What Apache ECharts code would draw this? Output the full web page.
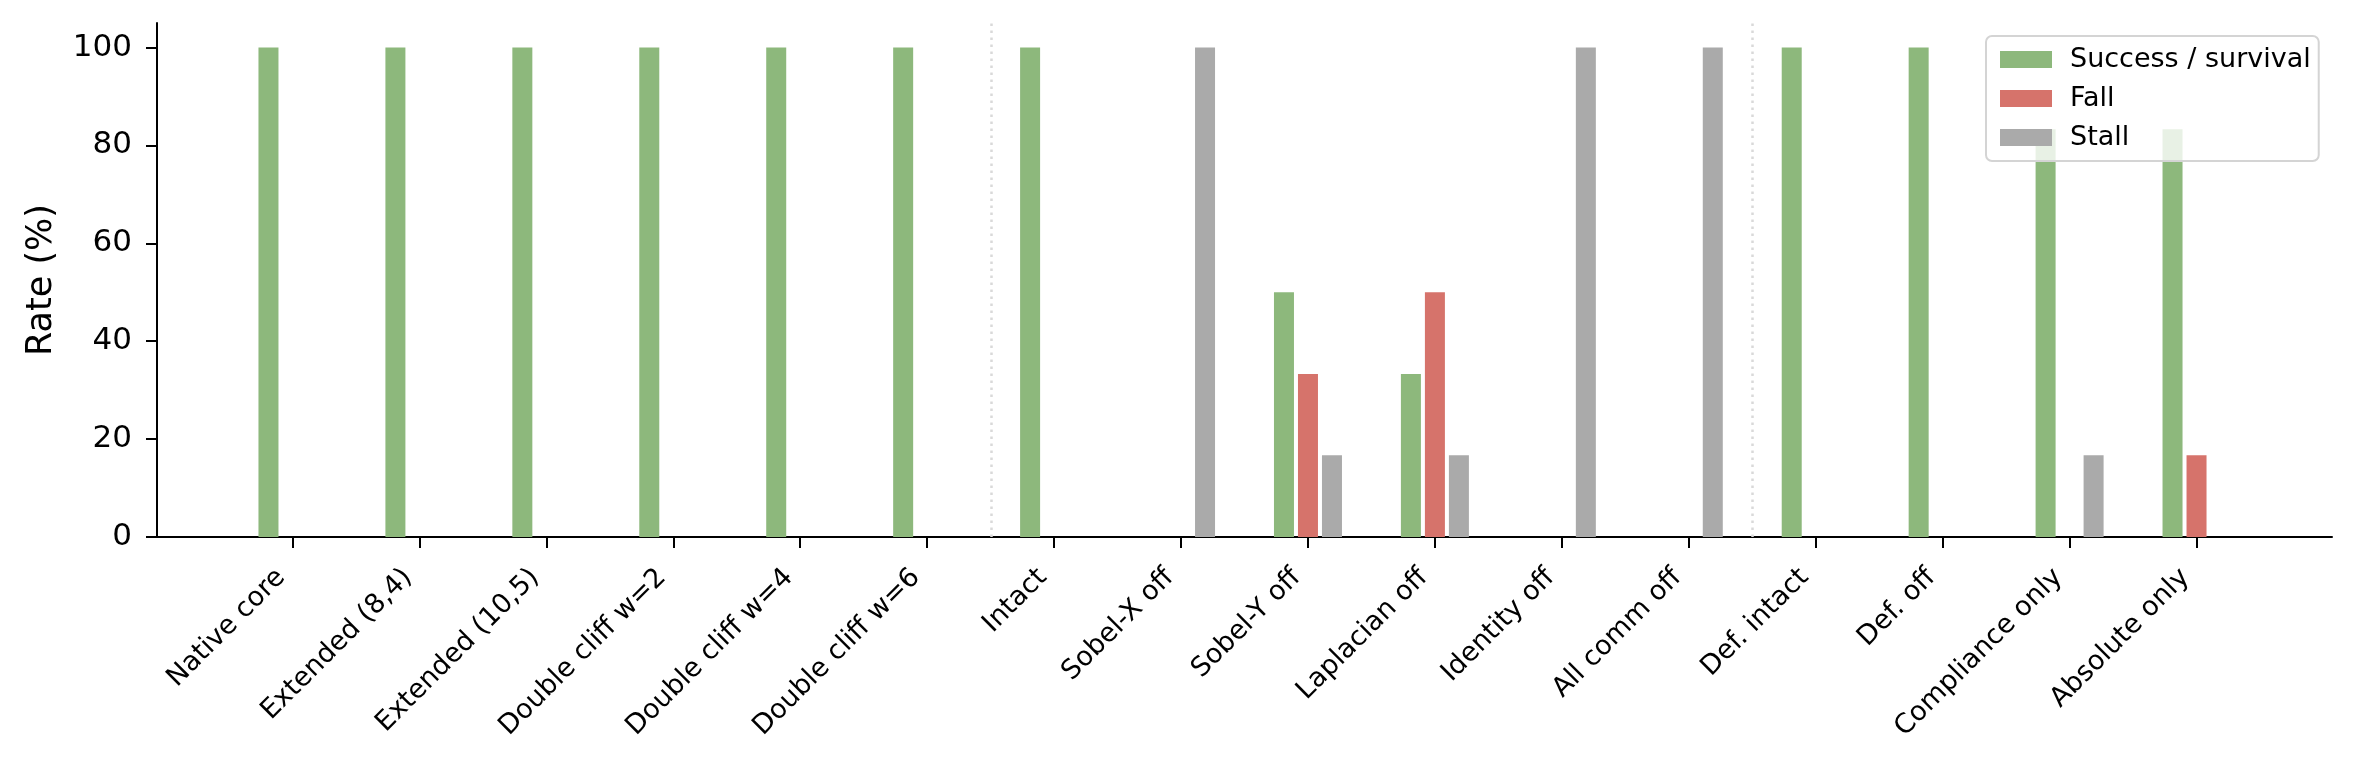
<!DOCTYPE html>
<html>
<head>
<meta charset="utf-8">
<script src="https://cdn.jsdelivr.net/npm/echarts@6/dist/echarts.min.js"></script>
<style>
  html, body { margin: 0; padding: 0; background: #fff; }
  #chart { width: 2355px; height: 771px; }
</style>
</head>
<body>
<div id="chart"></div>
<script>
var chartDom = document.getElementById("chart");
var chart = echarts.init(chartDom, null, { renderer: "canvas" });

const categories = [
  "Native core", "Extended (8,4)", "Extended (10,5)", "Double cliff w=2",
  "Double cliff w=4", "Double cliff w=6", "Intact", "Sobel-X off",
  "Sobel-Y off", "Laplacian off", "Identity off", "All comm off",
  "Def. intact", "Def. off", "Compliance only", "Absolute only"
];
const success = [100, 100, 100, 100, 100, 100, 100, 0, 50, 33.3, 0, 0, 100, 100, 83.3, 83.3];
const fall = [0, 0, 0, 0, 0, 0, 0, 0, 33.3, 50, 0, 0, 0, 0, 0, 16.7];
const stall = [0, 0, 0, 0, 0, 0, 0, 100, 16.7, 16.7, 100, 100, 0, 0, 16.7, 0];
const yTicks = [0, 20, 40, 60, 80, 100];
// group boundaries (between category indices)
const separators = [5.5, 11.5];

const font = "DejaVu Sans";

var grids = [
  // outer frame: axis spines
  { left: 157, right: 23, top: 23, bottom: 234, containLabel: false },
  // category band area
  { left: 229, right: 95, top: 23, bottom: 234, containLabel: false },
];

var option = {
  animation: false,
  backgroundColor: "#fff",
  textStyle: { fontFamily: font, color: "#000" },
  grid: grids,
  legend: {
    data: ["Success / survival", "Fall", "Stall"],
    orient: "vertical",
    left: 1986,
    top: 36,
    padding: [10, 8, 10, 14],
    itemWidth: 52,
    itemHeight: 17,
    itemGap: 12,
    icon: "rect",
    backgroundColor: "rgba(255,255,255,0.8)",
    borderColor: "#d4d4d4",
    borderWidth: 2,
    borderRadius: 6,
    textStyle: { fontFamily: font, fontSize: 27, color: "#000", padding: [0, 0, 0, 13] },
  },
  xAxis: [
    {
      gridIndex: 0,
      type: "value",
      min: -1.072,
      max: 16.072,
      axisLine: { show: true, onZero: false, lineStyle: { color: "#000", width: 2 } },
      axisTick: { show: false },
      axisLabel: { show: false },
      splitLine: { show: false },
    },
    {
      gridIndex: 1,
      type: "category",
      data: categories,
      axisLine: { show: false, onZero: false },
      axisTick: { show: true, alignWithLabel: true, length: 11, lineStyle: { color: "#000", width: 2 } },
      axisLabel: {
        interval: 0,
        rotate: 45,
        margin: 25,
        fontFamily: font,
        fontSize: 27,
        color: "#000",
        padding: [0, 16, 0, 0],
      },
      splitLine: { show: false },
    },
  ],
  yAxis: [
    {
      gridIndex: 0,
      type: "value",
      min: 0,
      max: 105,
      name: "Rate (%)",
      nameLocation: "middle",
      nameGap: 98,
      nameTextStyle: { fontFamily: font, fontSize: 35, color: "#000" },
      axisLine: { show: true, onZero: false, lineStyle: { color: "#000", width: 2 } },
      axisTick: { show: true, length: 11, customValues: yTicks, lineStyle: { color: "#000", width: 2 } },
      axisLabel: { customValues: yTicks, margin: 25, fontFamily: font, fontSize: 31, color: "#000" },
      splitLine: { show: false },
    },
    {
      gridIndex: 1,
      type: "value",
      min: 0,
      max: 105,
      show: false,
      axisLine: { show: false, onZero: false },
      splitLine: { show: false },
    },
  ],
  series: [
    {
      name: "Success / survival",
      type: "bar",
      xAxisIndex: 1,
      yAxisIndex: 1,
      data: success,
      barWidth: 20,
      barGap: "20%",
      itemStyle: { color: "#8db87c" },
    },
    {
      name: "Fall",
      type: "bar",
      xAxisIndex: 1,
      yAxisIndex: 1,
      data: fall,
      barWidth: 20,
      barGap: "20%",
      itemStyle: { color: "#d6736b" },
    },
    {
      name: "Stall",
      type: "bar",
      xAxisIndex: 1,
      yAxisIndex: 1,
      data: stall,
      barWidth: 20,
      barGap: "20%",
      itemStyle: { color: "#aaaaaa" },
    },
    {
      name: "separators",
      type: "line",
      xAxisIndex: 0,
      yAxisIndex: 0,
      data: [],
      silent: true,
      markLine: {
        silent: true,
        symbol: "none",
        label: { show: false },
        lineStyle: { color: "#d9d9d9", width: 2.5, type: [2.5, 4.5] },
        data: separators.map(function (s) { return { xAxis: s }; }),
      },
    },
  ],
};

chart.setOption(option);

window.addEventListener("resize", function () {
  chart.resize();
});
</script>
</body>
</html>
